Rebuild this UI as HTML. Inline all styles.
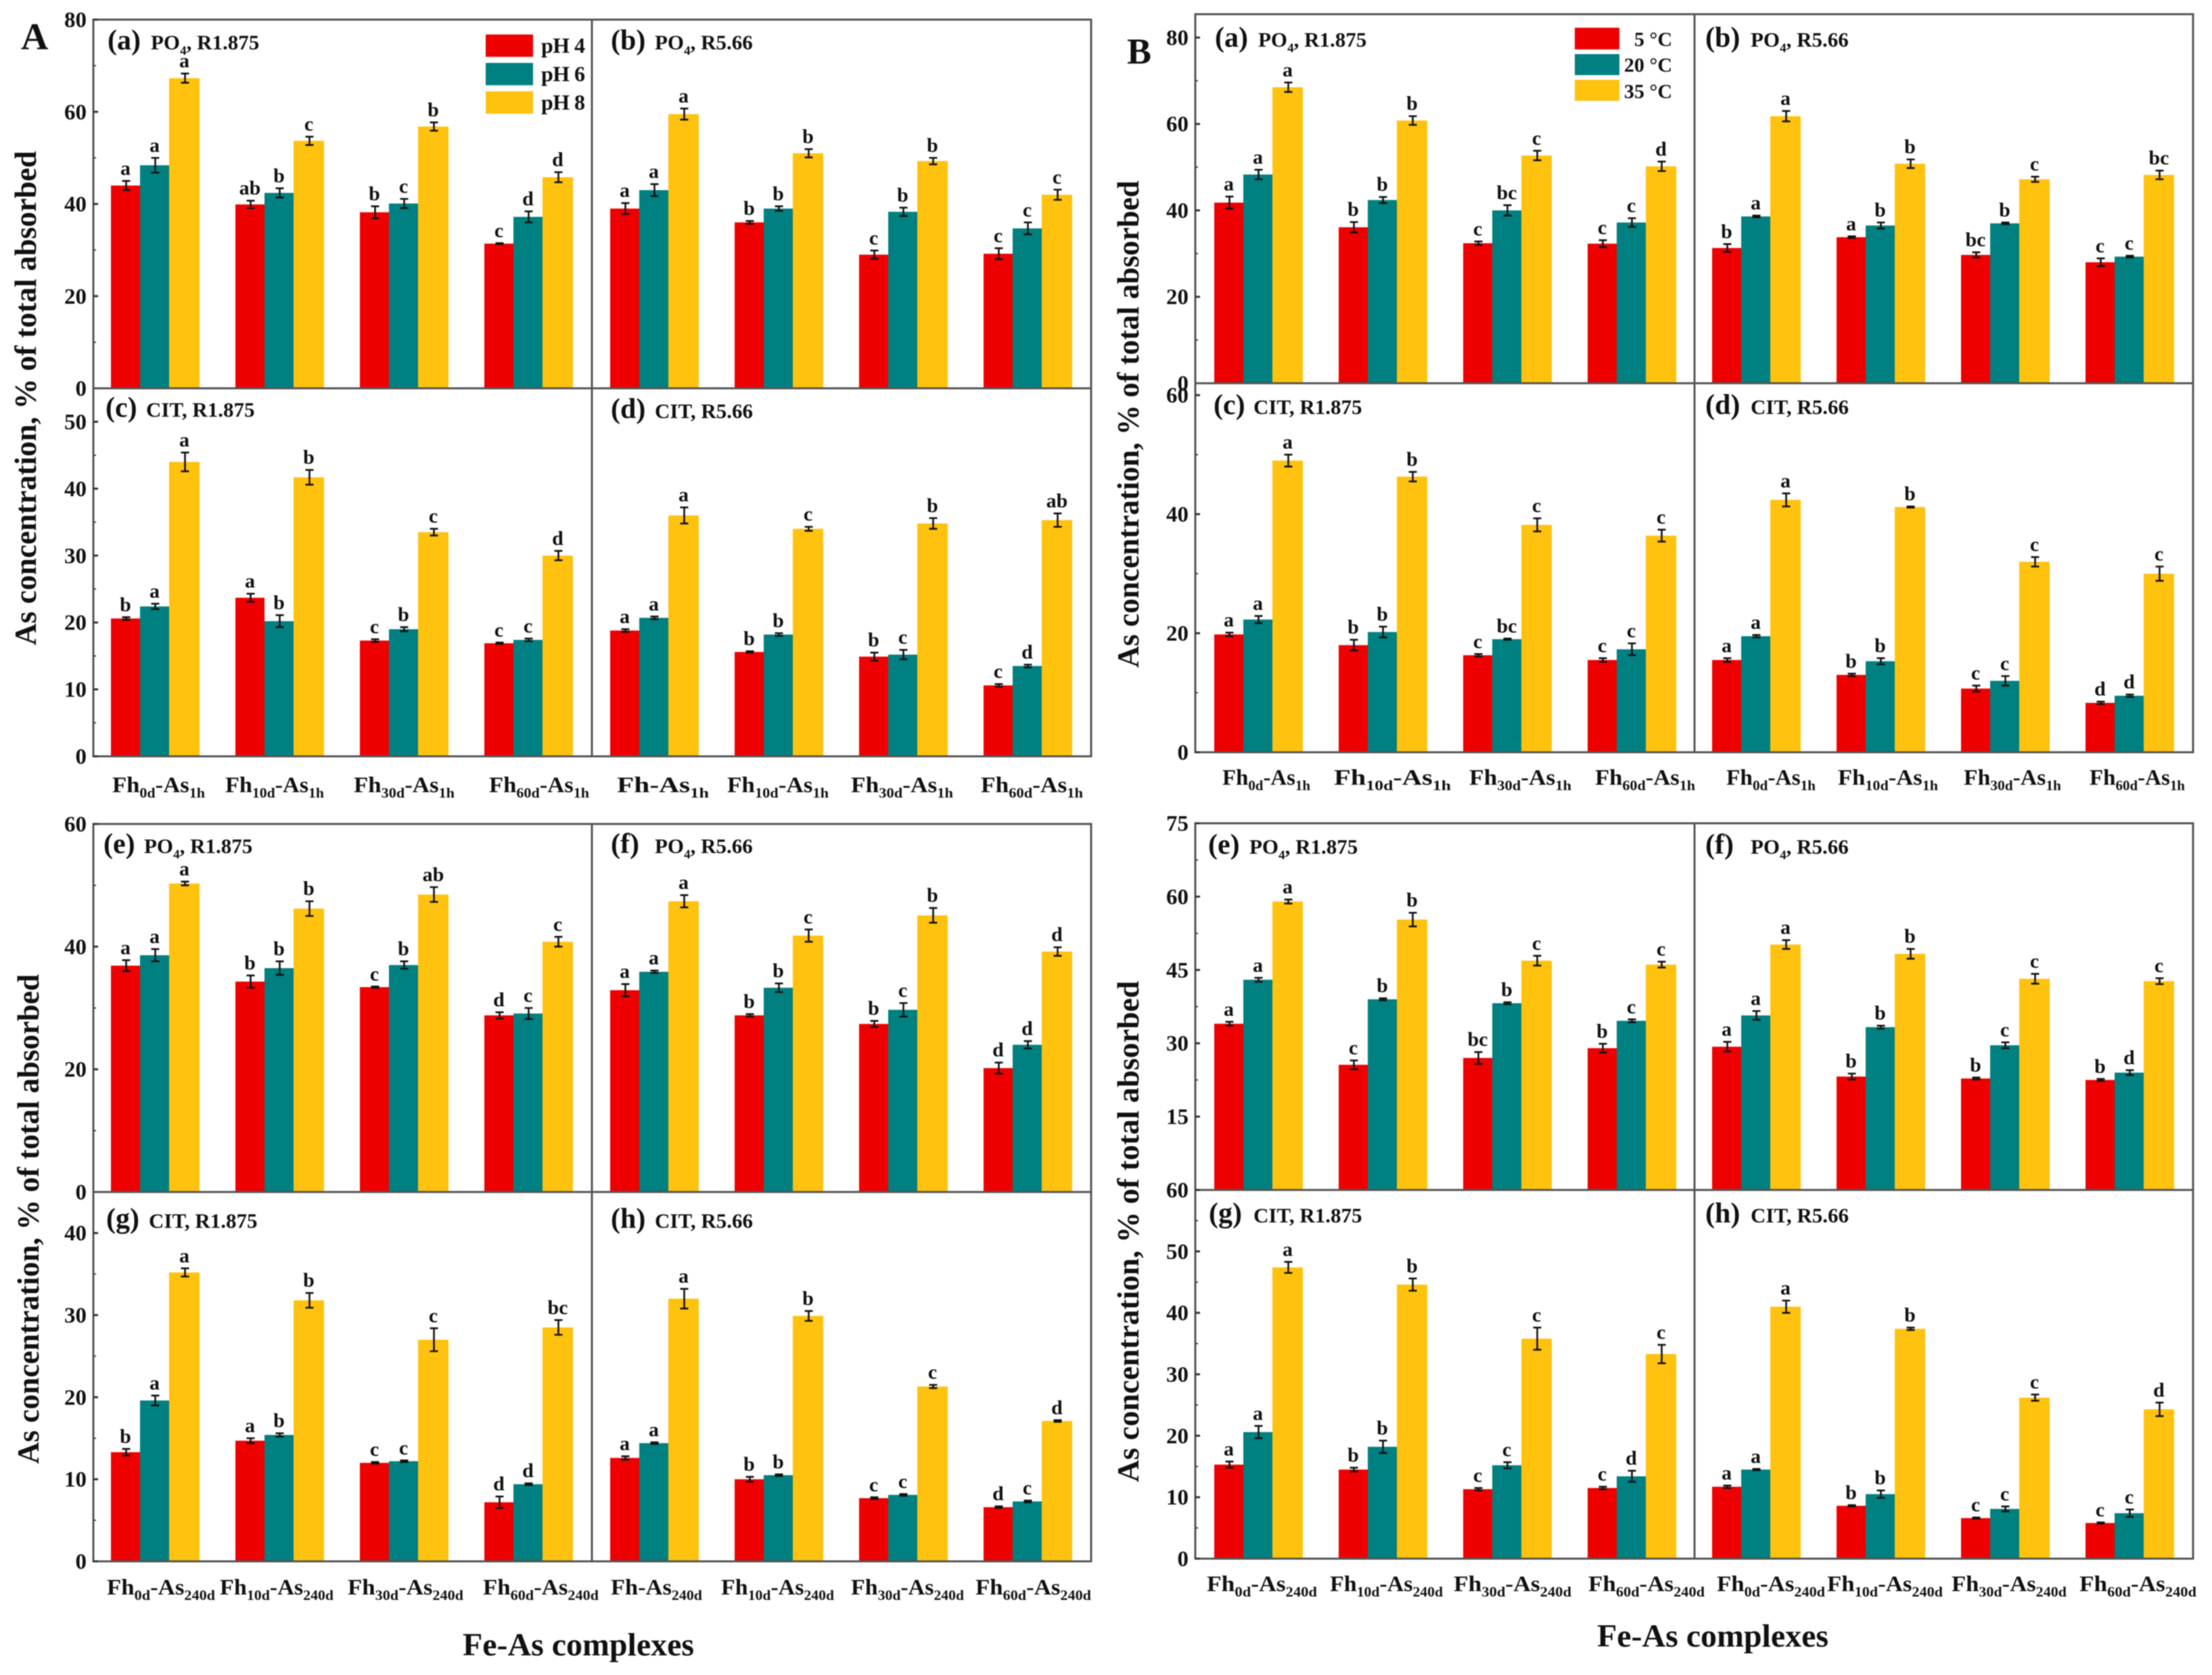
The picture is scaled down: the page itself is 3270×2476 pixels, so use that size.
<!DOCTYPE html>
<html lang="en">
<head>
<meta charset="utf-8">
<title>As concentration in Fe-As complexes</title>
<style>
html,body{margin:0;padding:0;background:#fff;}
#chart{display:block;width:3270px;height:2476px;filter:blur(0.7px);}
text{font-family:"Liberation Serif",serif;font-weight:bold;fill:#111;}
</style>
</head>
<body>
<svg id="chart" xmlns="http://www.w3.org/2000/svg" width="3270" height="2476" viewBox="0 0 3270 2476">
  <rect x="0" y="0" width="3270" height="2476" fill="#fff"/>
  <g id="marks"></g>
  <text x="31" y="73" font-size="56">A</text>
  <text x="1666" y="94" font-size="54">B</text>
  <text transform="translate(53,954) rotate(-90)" font-size="45" textLength="731" lengthAdjust="spacingAndGlyphs">As concentration, % of total absorbed</text>
  <text transform="translate(57,2164) rotate(-90)" font-size="45" textLength="724" lengthAdjust="spacingAndGlyphs">As concentration, % of total absorbed</text>
  <text transform="translate(1683,987) rotate(-90)" font-size="45" textLength="720" lengthAdjust="spacingAndGlyphs">As concentration, % of total absorbed</text>
  <text transform="translate(1683,2191) rotate(-90)" font-size="45" textLength="741" lengthAdjust="spacingAndGlyphs">As concentration, % of total absorbed</text>
  <text x="684" y="2447" font-size="48" textLength="342" lengthAdjust="spacingAndGlyphs">Fe-As complexes</text>
  <text x="2361" y="2434" font-size="48" textLength="342" lengthAdjust="spacingAndGlyphs">Fe-As complexes</text>
  <g>
    <g><rect x="718" y="51" width="70" height="33" fill="#ee0000"/><text x="800" y="78" font-size="32" textLength="65">pH 4</text></g>
    <g><rect x="718" y="93" width="70" height="33" fill="#008080"/><text x="800" y="120" font-size="32" textLength="65">pH 6</text></g>
    <g><rect x="718" y="135" width="70" height="33" fill="#ffc20e"/><text x="800" y="162" font-size="32" textLength="65">pH 8</text></g>
  </g>
  <g>
    <g><rect x="2328" y="41" width="66" height="32" fill="#ee0000"/><text x="2472" y="68" font-size="30" text-anchor="end">5 °C</text></g>
    <g><rect x="2328" y="80" width="66" height="31" fill="#008080"/><text x="2472" y="106" font-size="30" text-anchor="end">20 °C</text></g>
    <g><rect x="2328" y="118" width="66" height="31" fill="#ffc20e"/><text x="2472" y="145" font-size="30" text-anchor="end">35 °C</text></g>
  </g>
</svg>
<script>
// ---- Category labels: [base suffix, complex suffix] ----
const categoriesA1h = ['0d','10d','30d','60d'];
const categoriesB1h = ['','10d','30d','60d'];
const categoriesAll = ['0d','10d','30d','60d'];

// ---- Tick labels ----
const ticks80 = [0,20,40,60,80];
const ticks50 = [0,10,20,30,40,50];
const ticks60by20 = [0,20,40,60];
const ticks40 = [0,10,20,30,40];
const ticks60by20c = [20,40,60,0];
const ticks60by10 = [0,10,20,30,40,50,60];
const ticks75 = [15,30,45,60,75];

// ---- Significance groups and values, per complex group: [series1, series2, series3] ----
const valuesAa = [[44,48.4,67.3],[39.9,42.4,53.7],[38.2,40.1,56.8],[31.4,37.2,45.8]];
const errorsAa = [[1,1.6,1],[0.8,1,0.9],[1.3,1,0.9],[0.1,1.2,1.1]];
const lettersAa = [['a','a','a'],['ab','b','c'],['b','c','b'],['c','d','d']];
const valuesAb = [[39,43,59.5],[36,39,51],[29,38.3,49.3],[29.2,34.7,42]];
const errorsAb = [[1.2,1.3,1.2],[0.3,0.5,0.9],[0.9,0.9,0.7],[1.2,1.3,1.1]];
const lettersAb = [['a','a','a'],['b','b','b'],['c','b','b'],['c','c','c']];
const valuesAc = [[20.6,22.4,44],[23.7,20.2,41.7],[17.3,19,33.5],[16.9,17.4,30]];
const errorsAc = [[0.2,0.4,1.4],[0.6,0.9,1.1],[0.2,0.3,0.5],[0.1,0.2,0.7]];
const lettersAc = [['b','a','a'],['a','b','b'],['c','b','c'],['c','c','d']];
const valuesAd = [[18.8,20.7,36],[15.6,18.2,34],[14.9,15.2,34.8],[10.6,13.5,35.3]];
const errorsAd = [[0.2,0.2,1.2],[0.1,0.2,0.3],[0.6,0.7,0.8],[0.2,0.2,1]];
const lettersAd = [['a','a','a'],['b','b','c'],['b','c','b'],['c','d','ab']];
const valuesAe = [[36.9,38.6,50.3],[34.3,36.5,46.2],[33.4,37,48.5],[28.8,29.1,40.8]];
const errorsAe = [[0.9,1,0.3],[1,1.1,1.2],[0.1,0.6,1.2],[0.5,0.9,0.8]];
const lettersAe = [['a','a','a'],['b','b','b'],['c','b','ab'],['d','c','c']];
const valuesAf = [[32.9,35.9,47.4],[28.8,33.3,41.8],[27.4,29.7,45.1],[20.2,24,39.2]];
const errorsAf = [[1,0.2,1],[0.2,0.7,1],[0.5,1.1,1.2],[0.9,0.6,0.7]];
const lettersAf = [['a','a','a'],['b','b','c'],['b','c','b'],['d','d','d']];
const valuesAg = [[13.3,19.6,35.2],[14.7,15.4,31.8],[12,12.2,27],[7.2,9.4,28.5]];
const errorsAg = [[0.4,0.6,0.5],[0.3,0.2,0.9],[0.1,0.1,1.4],[0.7,0.1,0.9]];
const lettersAg = [['b','a','a'],['a','b','b'],['c','c','c'],['d','d','bc']];
const valuesAh = [[12.6,14.4,32],[10,10.5,29.9],[7.7,8.1,21.3],[6.6,7.3,17.1]];
const errorsAh = [[0.2,0.1,1.2],[0.3,0.1,0.6],[0.1,0.1,0.2],[0.1,0.1,0.1]];
const lettersAh = [['a','a','a'],['b','b','b'],['c','c','c'],['d','c','d']];

const valuesBa = [[41.8,48.3,68.5],[36.1,42.4,60.8],[32.4,40,52.7],[32.3,37.2,50.2]];
const errorsBa = [[1.4,1.1,1.1],[1.2,0.7,1],[0.4,1.2,1.1],[0.8,1,1.1]];
const lettersBa = [['a','a','a'],['b','b','b'],['c','bc','c'],['c','c','d']];
const valuesBb = [[31.3,38.6,61.8],[33.8,36.5,50.8],[29.7,37,47.2],[28,29.3,48.2]];
const errorsBb = [[0.9,0.2,1.2],[0.2,0.7,1],[0.6,0.2,0.6],[0.9,0.2,1]];
const lettersBb = [['b','a','a'],['a','b','b'],['bc','b','c'],['c','c','bc']];
const valuesBc = [[19.8,22.3,49],[18,20.2,46.3],[16.3,19,38.2],[15.5,17.3,36.4]];
const errorsBc = [[0.3,0.6,1],[0.9,0.9,0.8],[0.2,0.1,1.1],[0.3,1,1]];
const lettersBc = [['a','a','a'],['b','b','b'],['c','bc','c'],['c','c','c']];
const valuesBd = [[15.5,19.5,42.4],[13,15.3,41.2],[10.7,12,32],[8.3,9.5,30]];
const errorsBd = [[0.3,0.2,1.1],[0.2,0.5,0.1],[0.5,0.8,0.8],[0.2,0.2,1.2]];
const lettersBd = [['a','a','a'],['b','b','b'],['c','c','c'],['d','d','c']];
const valuesBe = [[34,43,59],[25.6,39,55.3],[27,38.2,46.9],[29,34.6,46.1]];
const errorsBe = [[0.4,0.4,0.4],[0.9,0.2,1.4],[1.2,0.2,1],[0.9,0.3,0.6]];
const lettersBe = [['a','a','a'],['c','b','b'],['bc','b','c'],['b','c','c']];
const valuesBf = [[29.3,35.7,50.2],[23.2,33.3,48.3],[22.8,29.6,43.2],[22.5,24,42.7]];
const errorsBf = [[1,0.9,0.9],[0.6,0.3,1],[0.2,0.6,1],[0.2,0.5,0.6]];
const lettersBf = [['a','a','a'],['b','b','b'],['b','c','c'],['b','d','c']];
const valuesBg = [[15.3,20.6,47.4],[14.5,18.2,44.6],[11.3,15.2,35.8],[11.5,13.4,33.3]];
const errorsBg = [[0.5,1,0.9],[0.3,1,1],[0.2,0.5,1.8],[0.2,0.9,1.5]];
const lettersBg = [['a','a','a'],['b','b','b'],['c','c','c'],['c','d','c']];
const valuesBh = [[11.7,14.5,41],[8.6,10.5,37.4],[6.6,8.1,26.2],[5.8,7.4,24.3]];
const errorsBh = [[0.2,0.1,1],[0.1,0.6,0.2],[0.1,0.4,0.5],[0.1,0.6,1.1]];
const lettersBh = [['a','a','a'],['b','b','b'],['c','c','c'],['c','c','d']];

// ---- Layout and style (not data) ----
const barColors = ['#ee0000','#008080','#ffc20e'];
const barWidths = [43,43,45];
const groupStep = 184;
const svgNS = 'http://www.w3.org/2000/svg';
const root = document.getElementById('marks');

const panels = [
 {id:'a-a',tag:'(a)',chem:'PO',sub:'4',ratio:', R1.875',x0:138,x1:875,y0:29,y1:574,ymax:80,ticks:ticks80,minor:10,start:164,tx:159,cx:223,by:73,v:valuesAa,e:errorsAa,l:lettersAa,axis:true},
 {id:'a-b',tag:'(b)',chem:'PO',sub:'4',ratio:', R5.66',x0:875,x1:1613,y0:29,y1:574,ymax:80,ticks:[],start:902,tx:903,cx:968,by:73,v:valuesAb,e:errorsAb,l:lettersAb},
 {id:'a-c',tag:'(c)',chem:'CIT',sub:'',ratio:', R1.875',x0:138,x1:875,y0:574,y1:1118,ymax:55,ticks:ticks50,minor:5,start:164,tx:156,cx:216,by:616,v:valuesAc,e:errorsAc,l:lettersAc,axis:true,
  cats:categoriesA1h,tail:'1h',base:1171,spans:[[166,303],[333,479],[523,672],[723,871]]},
 {id:'a-d',tag:'(d)',chem:'CIT',sub:'',ratio:', R5.66',x0:875,x1:1613,y0:574,y1:1118,ymax:55,ticks:[],start:902,tx:903,cx:968,by:618,v:valuesAd,e:errorsAd,l:lettersAd,
  cats:categoriesB1h,tail:'1h',base:1171,spans:[[912,1048],[1075,1225],[1258,1409],[1450,1601]]},
 {id:'a-e',tag:'(e)',chem:'PO',sub:'4',ratio:', R1.875',x0:138,x1:875,y0:1218,y1:1762,ymax:60,ticks:ticks60by20,minor:10,start:164,tx:153,cx:213,by:1261,v:valuesAe,e:errorsAe,l:lettersAe,axis:true},
 {id:'a-f',tag:'(f)',chem:'PO',sub:'4',ratio:', R5.66',x0:875,x1:1613,y0:1218,y1:1762,ymax:60,ticks:[],start:902,tx:903,cx:968,by:1261,v:valuesAf,e:errorsAf,l:lettersAf},
 {id:'a-g',tag:'(g)',chem:'CIT',sub:'',ratio:', R1.875',x0:138,x1:875,y0:1762,y1:2308,ymax:45,ticks:ticks40,minor:5,start:164,tx:157,cx:220,by:1815,v:valuesAg,e:errorsAg,l:lettersAg,axis:true,
  cats:categoriesAll,tail:'240d',base:2357,spans:[[158,318],[325,493],[514,685],[714,885]]},
 {id:'a-h',tag:'(h)',chem:'CIT',sub:'',ratio:', R5.66',x0:875,x1:1613,y0:1762,y1:2308,ymax:45,ticks:[],start:902,tx:903,cx:968,by:1815,v:valuesAh,e:errorsAh,l:lettersAh,
  cats:categoriesB1h,tail:'240d',base:2357,spans:[[903,1038],[1066,1233],[1258,1425],[1442,1613]]},
 {id:'b-a',tag:'(a)',chem:'PO',sub:'4',ratio:', R1.875',x0:1767,x1:2505,y0:21,y1:566.5,ymax:85.4,ticks:ticks80,minor:10,start:1795,tx:1796,cx:1860,by:69,v:valuesBa,e:errorsBa,l:lettersBa,axis:true},
 {id:'b-b',tag:'(b)',chem:'PO',sub:'4',ratio:', R5.66',x0:2505,x1:3242,y0:21,y1:566.5,ymax:85.4,ticks:[],start:2531,tx:2521,cx:2588,by:69,v:valuesBb,e:errorsBb,l:lettersBb},
 {id:'b-c',tag:'(c)',chem:'CIT',sub:'',ratio:', R1.875',x0:1767,x1:2505,y0:566.5,y1:1112,ymax:62,ticks:[0,20,40,60],minor:10,start:1795,tx:1794,cx:1853,by:612,v:valuesBc,e:errorsBc,l:lettersBc,axis:true,
  cats:categoriesAll,tail:'1h',base:1160,spans:[[1807,1937],[1972,2145],[2172,2323],[2358,2506]]},
 {id:'b-d',tag:'(d)',chem:'CIT',sub:'',ratio:', R5.66',x0:2505,x1:3242,y0:566.5,y1:1112,ymax:62,ticks:[],start:2531,tx:2521,cx:2588,by:612,v:valuesBd,e:errorsBd,l:lettersBd,
  cats:categoriesAll,tail:'1h',base:1160,spans:[[2552,2684],[2717,2865],[2903,3047],[3089,3230]]},
 {id:'b-e',tag:'(e)',chem:'PO',sub:'4',ratio:', R1.875',x0:1767,x1:2505,y0:1217,y1:1759,ymax:75,ticks:ticks75,minor:7.5,start:1795,tx:1786,cx:1847,by:1262,v:valuesBe,e:errorsBe,l:lettersBe,axis:true},
 {id:'b-f',tag:'(f)',chem:'PO',sub:'4',ratio:', R5.66',x0:2505,x1:3242,y0:1217,y1:1759,ymax:75,ticks:[],start:2531,tx:2521,cx:2588,by:1262,v:valuesBf,e:errorsBf,l:lettersBf},
 {id:'b-g',tag:'(g)',chem:'CIT',sub:'',ratio:', R1.875',x0:1767,x1:2505,y0:1759,y1:2304,ymax:60,ticks:ticks60by10,minor:5,start:1795,tx:1787,cx:1853,by:1807,v:valuesBg,e:errorsBg,l:lettersBg,axis:true,
  cats:categoriesAll,tail:'240d',base:2352,spans:[[1784,1947],[1966,2133],[2149,2323],[2348,2520]]},
 {id:'b-h',tag:'(h)',chem:'CIT',sub:'',ratio:', R5.66',x0:2505,x1:3242,y0:1759,y1:2304,ymax:60,ticks:[],start:2531,tx:2521,cx:2588,by:1807,v:valuesBh,e:errorsBh,l:lettersBh,
  cats:categoriesAll,tail:'240d',base:2352,spans:[[2538,2698],[2701,2872],[2885,3055],[3074,3247]]}
];

function mk(tag, attrs, parent){
  const el = document.createElementNS(svgNS, tag);
  for (const k in attrs) el.setAttribute(k, attrs[k]);
  parent.appendChild(el);
  return el;
}
function yScale(p, value){ return p.y1 - (value / p.ymax) * (p.y1 - p.y0); }
function groupX(p, g){ return p.start + g * groupStep; }
function barX(p, g, s){
  let x = groupX(p, g);
  for (let i = 0; i < s; i++) x += barWidths[i];
  return x;
}
function addSpan(parent, str, size, dy){
  const t = mk('tspan', {'font-size': size, dy: dy}, parent);
  t.textContent = str;
  return t;
}

panels.forEach(function(p){
  const g = mk('g', {}, root);
  
  

  // bars, error bars, significance letters
  p.v.forEach(function(vals, gi){
    vals.forEach(function(val, si){
      const top = yScale(p, val);
      const x = barX(p, gi, si);
      const bar = mk('rect', {x: x, y: top, width: barWidths[si], height: p.y1 - top, fill: barColors[si]}, g);
      
      

      const cx = x + barWidths[si] / 2 + 1;
      const eTop = yScale(p, val + p.e[gi][si]);
      const eBot = yScale(p, val - p.e[gi][si]);
      const err = mk('path', {d: 'M' + (cx - 6) + ' ' + eTop + 'H' + (cx + 6) + 'M' + cx + ' ' + eTop + 'V' + eBot + 'M' + (cx - 6) + ' ' + eBot + 'H' + (cx + 6), stroke: '#111', 'stroke-width': 2.6, fill: 'none'}, g);
      
      

      const let1 = mk('text', {x: cx - 1, y: eTop - 9, 'font-size': 30, 'text-anchor': 'middle'}, g);
      let1.textContent = p.l[gi][si];
      
      
    });
  });

  // frame
  const frame = mk('rect', {x: p.x0, y: p.y0, width: p.x1 - p.x0, height: p.y1 - p.y0, fill: 'none', stroke: '#555', 'stroke-width': 3}, g);
  
  

  // y ticks
  if (p.axis){
    p.ticks.forEach(function(t){
      const y = yScale(p, t);
      const tk = mk('line', {x1: p.x0, x2: p.x0 + 7, y1: y, y2: y, stroke: '#333', 'stroke-width': 3}, g);
      
      
      const lb = mk('text', {x: p.x0 - 10, y: y + 11, 'font-size': 33, 'text-anchor': 'end'}, g);
      lb.textContent = t;
      
      
      const mv = t + p.minor;
      if (mv < p.ymax){
        const my = yScale(p, mv);
        const mt = mk('line', {x1: p.x0, x2: p.x0 + 4, y1: my, y2: my, stroke: '#444', 'stroke-width': 2}, g);
        
        
      }
    });
  }

  // panel caption
  const cap = mk('text', {x: p.tx, y: p.by, 'font-size': 42}, g);
  cap.textContent = p.tag;
  
  
  const chem = mk('text', {x: p.cx, y: p.by, 'font-size': 31}, g);
  addSpan(chem, p.chem, 31, 0);
  if (p.sub){
    addSpan(chem, p.sub, 19, 8);
    addSpan(chem, p.ratio, 31, -8);
  } else {
    addSpan(chem, p.ratio, 31, 0);
  }
  
  

  // x category labels
  if (p.cats){
    p.cats.forEach(function(c, i){
      const span = p.spans[i];
      const tx = mk('text', {x: span[0], y: p.base, 'font-size': 33, textLength: span[1] - span[0], lengthAdjust: 'spacingAndGlyphs'}, g);
      addSpan(tx, 'Fh', 33, 0);
      if (c){
        addSpan(tx, c, 21, 8);
        addSpan(tx, '-As', 33, -8);
      } else {
        addSpan(tx, '-As', 33, 0);
      }
      addSpan(tx, p.tail, 21, 8);
      
      
    });
  }
});
</script>
</body>
</html>
